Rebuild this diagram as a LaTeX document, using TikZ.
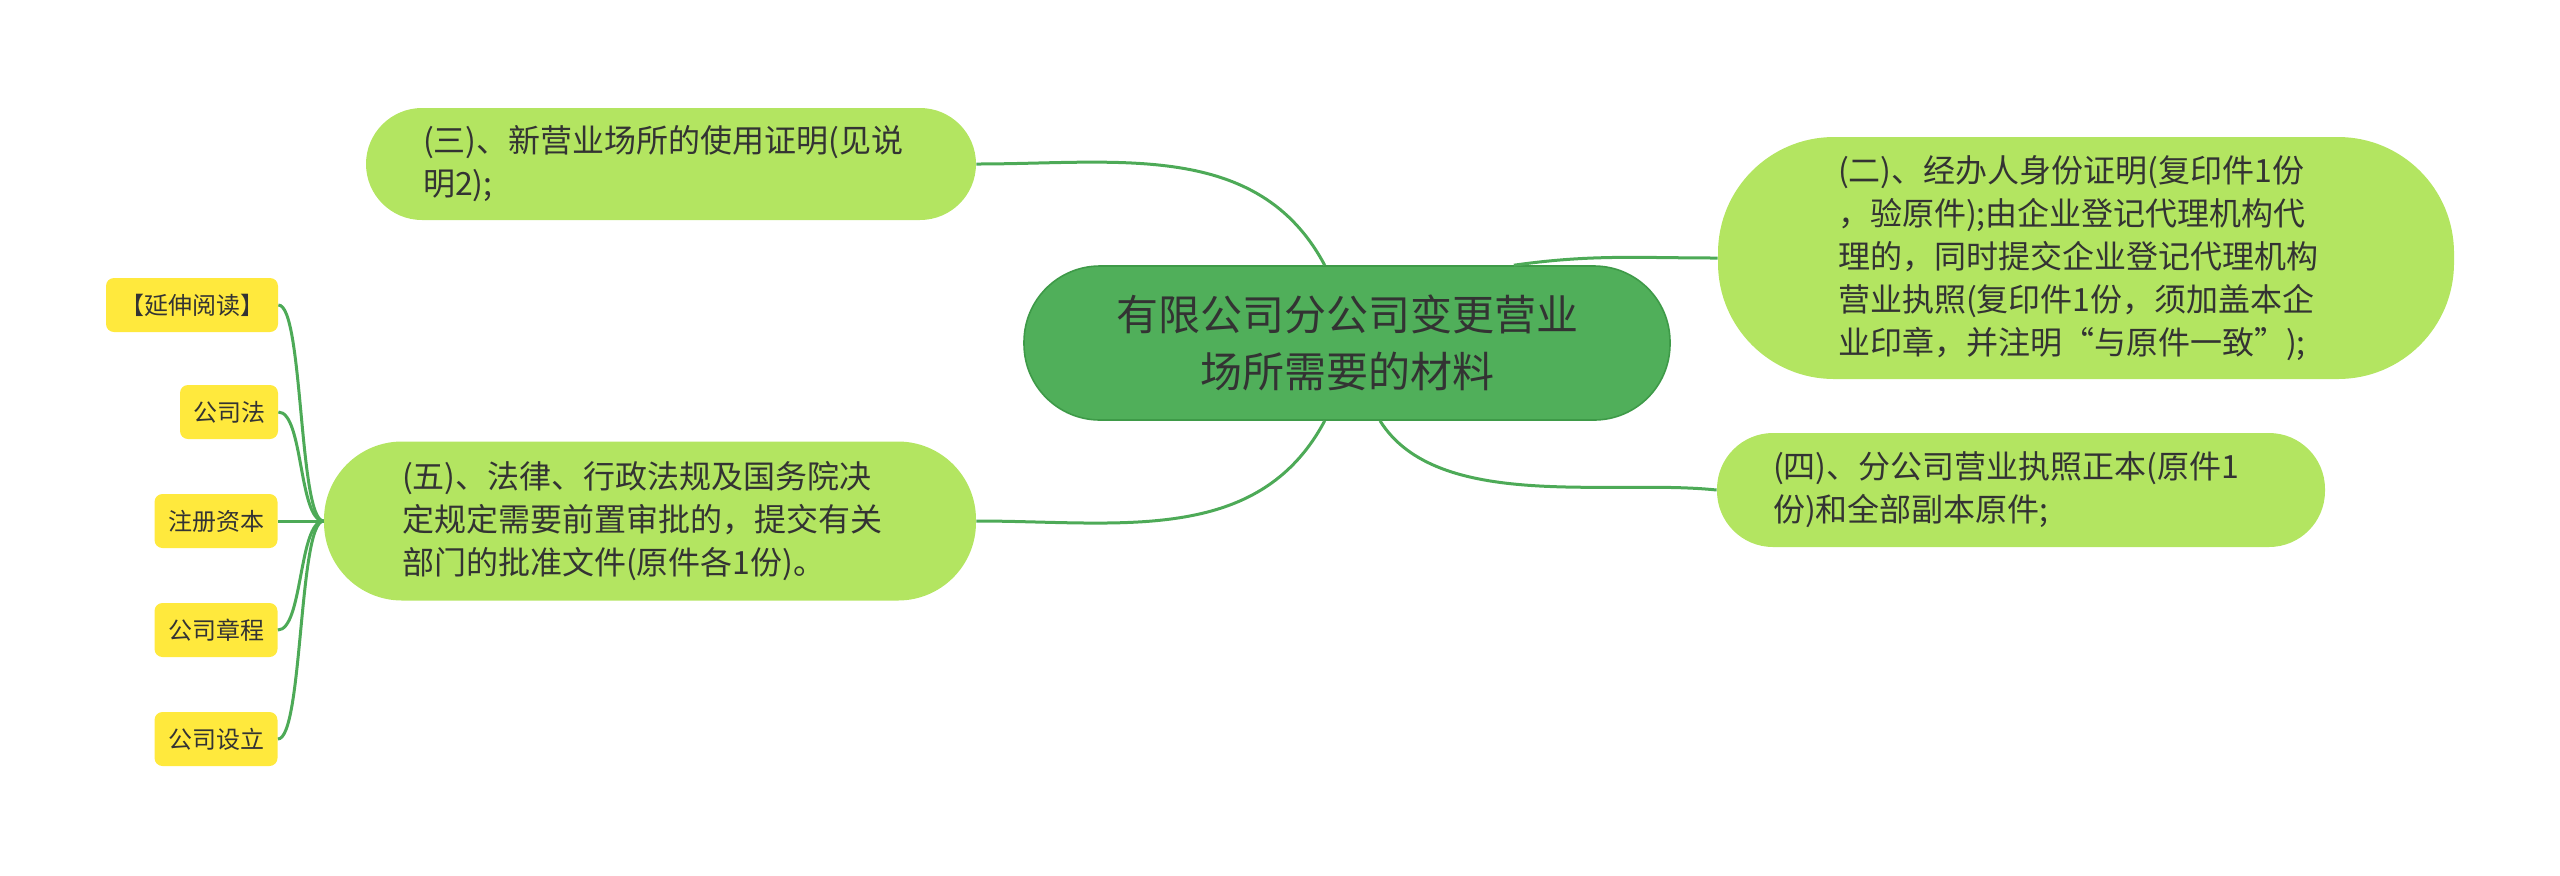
\documentclass[tikz,border=0pt]{standalone}
\usepackage{fontspec}
\newfontfamily\cjk{Noto Sans CJK SC}
\definecolor{hubgreen}{HTML}{50AF5A}
\definecolor{hubedge}{HTML}{3E9A48}
\definecolor{branchgreen}{HTML}{B3E561}
\definecolor{leafyellow}{HTML}{FFE93D}
\definecolor{linkgreen}{HTML}{4DAA57}
\definecolor{inkgray}{HTML}{333333}
\tikzset{
  hubbox/.style={draw=hubedge, line width=0.8pt, fill=hubgreen, text=inkgray,
    rounded corners=38pt, minimum width=323pt, minimum height=77pt,
    align=center, font=\cjk\fontsize{21}{28.5}\selectfont},
  branchbox/.style={fill=branchgreen, text=inkgray, align=left,
    text width=248pt, font=\cjk\fontsize{16}{21.5}\selectfont},
  leafbox/.style={fill=leafyellow, text=inkgray, rounded corners=4pt,
    minimum height=27pt, inner xsep=0pt, font=\cjk\fontsize{12}{14}\selectfont},
  link/.style={draw=linkgreen, line width=1.5pt}
}
\begin{document}
\begin{tikzpicture}[x=0.5pt, y=-0.5pt]

        \useasboundingbox (0,0) rectangle (2560,875);

        % Center topic
        \node[hubbox] (hub) at (1347,343) {有限公司分公司变更营业\\场所需要的材料};

        % Branches
        \node[branchbox, minimum height=56pt, inner xsep=28.5pt, rounded corners=28pt]
          (three) at (671,164) {(三)、新营业场所的使用证明(见说\\明2);};
        \node[branchbox, minimum height=121pt, inner xsep=60pt, rounded corners=58pt]
          (two) at (2086,258) {(二)、经办人身份证明(复印件1份\\，验原件);由企业登记代理机构代\\理的，同时提交企业登记代理机构\\营业执照(复印件1份，须加盖本企\\业印章，并注明“与原件一致”);};
        \node[branchbox, minimum height=57pt, inner xsep=28pt, rounded corners=28pt]
          (four) at (2021,490) {(四)、分公司营业执照正本(原件1\\份)和全部副本原件;};
        \node[branchbox, minimum height=79.5pt, inner xsep=39pt, rounded corners=39pt]
          (five) at (650,521) {(五)、法律、行政法规及国务院决\\定规定需要前置审批的，提交有关\\部门的批准文件(原件各1份)。};

        % Leaves of (five)
        \node[leafbox, minimum width=86pt] (read) at (192,305) {【延伸阅读】};
        \node[leafbox, minimum width=49pt] (law) at (229,412) {公司法};
        \node[leafbox, minimum width=61.5pt] (capital) at (216,521) {注册资本};
        \node[leafbox, minimum width=61.5pt] (charter) at (216,630) {公司章程};
        \node[leafbox, minimum width=61.5pt] (setup) at (216,739) {公司设立};

        % Center to branches
        \draw[link] (three.east) to[out=0, in=118] (hub.106);
        \draw[link] (hub.25) to[out=8, in=180] (two.west);
        \draw[link] (hub.293) to[out=-58, in=174, looseness=0.8] (four.west);
        \draw[link] (hub.254) to[out=242, in=0] (five.east);

        % Branch (five) to leaves
        \foreach \leaf in {read, law, capital, charter, setup}
          \draw[link] (five.west) .. controls +(-25,0) and +(25,0) .. (\leaf.east);

    \end{tikzpicture}
\end{document}
